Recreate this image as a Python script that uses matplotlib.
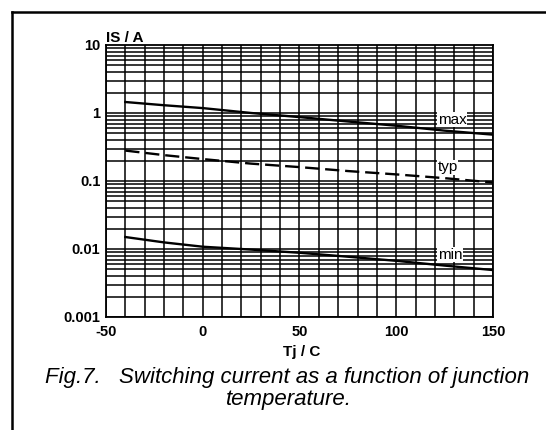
import matplotlib
matplotlib.use('Agg')
import matplotlib.pyplot as plt
from matplotlib.lines import Line2D
import numpy as np

# Junction temperature (C) and switching current (A)
temps = [-40, -20, 0, 25, 50, 75, 100, 125, 150]
is_max = [1.45, 1.30, 1.18, 1.00, 0.87, 0.75, 0.65, 0.55, 0.48]
is_typ = [0.28, 0.24, 0.21, 0.18, 0.16, 0.14, 0.125, 0.11, 0.095]
is_min = [0.015, 0.0125, 0.0108, 0.0098, 0.0088, 0.0077, 0.0067, 0.0057, 0.0049]

x_ticks = [-50, 0, 50, 100, 150]
y_ticks = [0.001, 0.01, 0.1, 1, 10]
y_labels = ['0.001', '0.01', '0.1', '1', '10']

plt.rcParams['font.family'] = ['Liberation Sans', 'DejaVu Sans']
plt.rcParams['axes.unicode_minus'] = False

fig = plt.figure(figsize=(5.46, 4.30), dpi=100)
ax = fig.add_axes([0.1941, 0.2628, 0.7088, 0.6326])

ax.set_yscale('log')
ax.set_xlim(-50, 150)
ax.set_ylim(0.001, 10)

# grid: every 10 C and log minor lines
for t in range(-50, 151, 10):
    ax.axvline(t, color='black', lw=1.1, zorder=1)
for d in [0.001, 0.01, 0.1, 1]:
    for k in range(1, 10):
        ax.axhline(d * k, color='black', lw=1.1, zorder=1)

ax.plot(temps, is_max, color='black', lw=1.7, zorder=3)
ax.plot(temps, is_typ, color='black', lw=1.7, ls=(0, (6, 2.5)), zorder=3)
ax.plot(temps, is_min, color='black', lw=1.7, zorder=3)

box = dict(facecolor='white', edgecolor='none', pad=0.3)
ax.text(128.8, 0.80, 'max', fontsize=11, ha='center', va='center', bbox=box, zorder=4)
ax.text(126.7, 0.16, 'typ', fontsize=11, ha='center', va='center', bbox=box, zorder=4)
ax.text(127.8, 0.0082, 'min', fontsize=11, ha='center', va='center', bbox=box, zorder=4)

ax.set_xticks(x_ticks)
ax.set_yticks(y_ticks)
ax.set_yticklabels(y_labels)
ax.yaxis.set_minor_locator(matplotlib.ticker.NullLocator())
ax.tick_params(length=0, labelsize=10.5)
ax.tick_params(axis='x', pad=5.5)
ax.tick_params(axis='y', pad=4)
for lab in ax.get_xticklabels() + ax.get_yticklabels():
    lab.set_fontweight('bold')
for s in ax.spines.values():
    s.set_linewidth(1.3)

fig.text(106 / 546, 1 - 42 / 430, 'IS / A', fontsize=11, fontweight='bold',
         ha='left', va='baseline')
fig.text(302 / 546, 1 - 356 / 430, 'Tj / C', fontsize=11, fontweight='bold',
         ha='center', va='baseline')

fig.text(287 / 546, 1 - 383 / 430,
         'Fig.7.   Switching current as a function of junction',
         fontsize=16, style='italic', ha='center', va='baseline')
fig.text(289 / 546, 1 - 405 / 430, 'temperature.', fontsize=16, style='italic',
         ha='center', va='baseline')

# frame around the figure (only left and top edges are visible)
fig.add_artist(Line2D([12 / 546, 12 / 546], [0, 1 - 12 / 430],
                      transform=fig.transFigure, color='black', lw=1.8))
fig.add_artist(Line2D([12 / 546, 1], [1 - 12 / 430, 1 - 12 / 430],
                      transform=fig.transFigure, color='black', lw=1.8))

fig.savefig('out.png', dpi=100)
